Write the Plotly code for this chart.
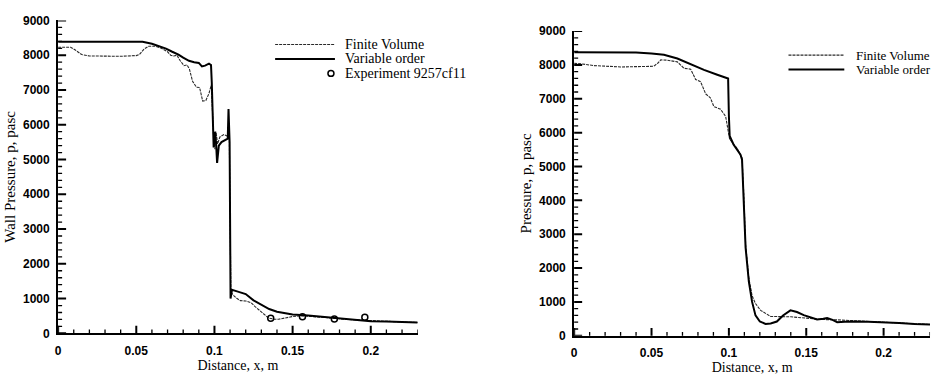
import plotly.graph_objects as go

# ---------------- data ----------------
# Left panel: wall pressure
left_vo_x = [0, 0.02, 0.04, 0.054, 0.06, 0.065, 0.069, 0.073, 0.077, 0.08, 0.0837, 0.087, 0.09,
             0.092, 0.094, 0.0965, 0.0978, 0.0983, 0.099, 0.0995, 0.1003, 0.101, 0.1017, 0.1028,
             0.1045, 0.107, 0.1085, 0.109, 0.1097, 0.1103, 0.1112, 0.115, 0.12, 0.125, 0.13,
             0.135, 0.14, 0.145, 0.15, 0.16, 0.17, 0.18, 0.19, 0.2, 0.21, 0.22, 0.23]
left_vo_p = [8390, 8390, 8400, 8390, 8330, 8260, 8190, 8100, 8020, 7930, 7840, 7800, 7780,
             7680, 7700, 7760, 7720, 7200, 5700, 5350, 5800, 5500, 4900, 5400,
             5500, 5550, 5600, 6450, 5500, 1000, 1250, 1200, 1130, 950, 820,
             700, 620, 570, 540, 510, 470, 430, 380, 350, 340, 320, 310]

left_fv_x = [0, 0.008, 0.011, 0.015, 0.02, 0.03, 0.04, 0.05, 0.052, 0.055, 0.058, 0.062, 0.066,
             0.07, 0.072, 0.074, 0.076, 0.078, 0.0805, 0.0825, 0.084, 0.086, 0.0885, 0.0905,
             0.0915, 0.0925, 0.0945, 0.0965, 0.098, 0.0988, 0.0995, 0.1003, 0.101, 0.102,
             0.1035, 0.106, 0.108, 0.1095, 0.1105, 0.112, 0.1145, 0.1166, 0.12, 0.121, 0.1235,
             0.126, 0.129, 0.1315, 0.1346, 0.138, 0.141, 0.145, 0.1495, 0.156, 0.165, 0.175,
             0.185, 0.2, 0.21, 0.22, 0.23]
left_fv_p = [8230, 8230, 8150, 8020, 7980, 7970, 7970, 7990, 8020, 8180, 8260, 8260, 8200,
             8100, 8000, 7980, 8000, 7850, 7700, 7720, 7600, 7250, 7080, 7070,
             6850, 6680, 6700, 6900, 7150, 6200, 5600, 5300, 5800, 5450,
             5650, 5720, 5680, 5650, 1200, 1100, 1000, 940, 930, 910, 880,
             770, 660, 570, 440, 410, 405, 440, 480, 505, 480, 440,
             400, 360, 345, 325, 310]

exp_x = [0.136, 0.1563, 0.1767, 0.1962]
exp_p = [435, 480, 415, 460]

# Right panel: pressure
right_vo_x = [0, 0.02, 0.04, 0.05, 0.058, 0.0667, 0.075, 0.0839, 0.0925, 0.0979, 0.0995, 0.1,
              0.1005, 0.103, 0.1054, 0.1075, 0.1085, 0.1097, 0.1108, 0.1129, 0.115, 0.1172,
              0.12, 0.1237, 0.127, 0.131, 0.135, 0.1398, 0.144, 0.1484, 0.153, 0.157, 0.161,
              0.1635, 0.167, 0.17, 0.175, 0.18, 0.19, 0.2, 0.21, 0.22, 0.23]
right_vo_p = [8375, 8380, 8370, 8340, 8300, 8190, 8025, 7855, 7710, 7620, 7600, 6500,
              5900, 5650, 5500, 5350, 5200, 4020, 2600, 1600, 1000, 600,
              420, 350, 360, 420, 600, 750, 700, 610, 530, 480, 500,
              520, 470, 400, 410, 420, 410, 400, 380, 350, 330]

right_fv_x = [0, 0.005, 0.0127, 0.02, 0.03, 0.04, 0.0514, 0.054, 0.056, 0.06, 0.0667, 0.071,
              0.0753, 0.0785, 0.0817, 0.085, 0.088, 0.0903, 0.0946, 0.0979, 0.099, 0.1005,
              0.1054, 0.1075, 0.1085, 0.1097, 0.1108, 0.1129, 0.115, 0.1172, 0.1205, 0.127,
              0.133, 0.14, 0.15, 0.16, 0.17, 0.18, 0.2, 0.21, 0.22, 0.23]
right_fv_p = [8045, 8030, 7980, 7960, 7940, 7950, 7960, 8050, 8150, 8140, 8090, 7900,
              7875, 7570, 7505, 7145, 7030, 6770, 6690, 6480, 6200, 5800,
              5530, 5350, 5250, 4100, 2700, 1700, 1180, 950, 750, 570,
              560, 560, 520, 480, 470, 440, 400, 380, 350, 330]

# tick labels
x_tickvals = [0, 0.05, 0.1, 0.15, 0.2]
x_ticktext = ["0", "0.05", "0.1", "0.15", "0.2"]
x_minor_step = 0.01
y_tickvals = [0, 1000, 2000, 3000, 4000, 5000, 6000, 7000, 8000, 9000]
y_ticktext = [str(v) for v in y_tickvals]
y_minor_step = 200

# ---------------- figure ----------------
fig = go.Figure()
FV_STYLE = dict(color="#2a2a2a", width=1.1, dash="3px,1px")
VO_STYLE = dict(color="black", width=2)

fig.add_trace(go.Scatter(x=left_fv_x, y=left_fv_p, mode="lines", line=FV_STYLE,
                         name="Finite Volume", showlegend=False, xaxis="x", yaxis="y"))
fig.add_trace(go.Scatter(x=left_vo_x, y=left_vo_p, mode="lines", line=VO_STYLE,
                         name="Variable order", showlegend=False, xaxis="x", yaxis="y"))
fig.add_trace(go.Scatter(x=exp_x, y=exp_p, mode="markers",
                         marker=dict(symbol="circle-open", size=6, color="black",
                                     line=dict(width=1.5, color="black")),
                         name="Experiment 9257cf11", showlegend=False, xaxis="x", yaxis="y"))
fig.add_trace(go.Scatter(x=right_fv_x, y=right_fv_p, mode="lines", line=FV_STYLE,
                         name="Finite Volume", showlegend=False, xaxis="x2", yaxis="y2"))
fig.add_trace(go.Scatter(x=right_vo_x, y=right_vo_p, mode="lines", line=VO_STYLE,
                         name="Variable order", showlegend=False, xaxis="x2", yaxis="y2"))

W, H = 939, 375
TICKFONT = dict(family="Liberation Sans, Arial, sans-serif", size=12, color="black", weight=700)
TITLEFONT = dict(family="Liberation Serif, Times New Roman, serif", size=14, color="black")

# panel boxes in pixels: (left, right, top, bottom)
PANELS = [(55.3, 416, 14, 339), (573, 930, 25, 341.5)]


def xaxis(domain, anchor):
    return dict(domain=domain, anchor=anchor, range=[0, 0.23], showline=True, linecolor="black",
                linewidth=2, ticks="", ticklabelstandoff=5,
                tickmode="array", tickvals=x_tickvals, ticktext=x_ticktext, tickfont=TICKFONT,
                showgrid=False, zeroline=False,
                title=dict(text="Distance, x, m", font=TITLEFONT, standoff=3))


def yaxis(domain, anchor, title):
    return dict(domain=domain, anchor=anchor, range=[0, 9000], showline=True, linecolor="black",
                linewidth=2, ticks="", ticklabelstandoff=4,
                tickmode="array", tickvals=y_tickvals, ticktext=y_ticktext, tickfont=TICKFONT,
                showgrid=False, zeroline=False,
                title=dict(text=title, font=dict(TITLEFONT, size=15), standoff=4))


(l1, r1, t1, b1), (l2, r2, t2, b2) = PANELS
fig.update_layout(
    width=W, height=H, margin=dict(l=0, r=0, t=0, b=0),
    paper_bgcolor="white", plot_bgcolor="white", showlegend=False,
    xaxis=xaxis([l1 / W, r1 / W], "y"),
    yaxis=yaxis([1 - b1 / H, 1 - t1 / H], "x", "Wall Pressure, p, pasc"),
    xaxis2=xaxis([l2 / W, r2 / W], "y2"),
    yaxis2=yaxis([1 - b2 / H, 1 - t2 / H], "x2", "Pressure, p, pasc"),
)

# ---------------- inward tick marks (major + minor), placed via axis scales ----------------
n_xminor = int(round(0.23 / x_minor_step)) + 1
x_minor_vals = [round(i * x_minor_step, 4) for i in range(n_xminor)]
n_yminor = int(round(9000 / y_minor_step)) + 1
y_minor_vals = [i * y_minor_step for i in range(n_yminor)]

MAJ_LEN, MIN_LEN = 8, 4
for (xr, yr), (l, r, t, b) in zip([("x", "y"), ("x2", "y2")], PANELS):
    pw, ph = r - l, b - t
    for v in x_minor_vals:
        major = any(abs(v - m) < 1e-9 for m in x_tickvals)
        ln = MAJ_LEN if major else MIN_LEN
        fig.add_shape(type="line", xref=xr, yref=yr + " domain", x0=v, x1=v, y0=0, y1=ln / ph,
                      line=dict(color="black", width=2 if major else 1.3), layer="above")
    for v in y_minor_vals:
        major = v in y_tickvals
        ln = MAJ_LEN if major else MIN_LEN
        fig.add_shape(type="line", xref=xr + " domain", yref=yr, x0=0, x1=ln / pw, y0=v, y1=v,
                      line=dict(color="black", width=2 if major else 1.3), layer="above")

# ---------------- legends (drawn in paper coordinates) ----------------
LEGFONT = dict(family="Liberation Serif, Times New Roman, serif", size=14, color="black")


def px(x):
    return x / W


def py(y):
    return 1 - y / H


legend_items = [
    # (line x0, x1, y, style, label, text x, font size)
    (273, 333, 39, FV_STYLE, "Finite Volume", 341, 14),
    (273, 333, 54, VO_STYLE, "Variable order", 341, 14),
    (788, 844, 50, FV_STYLE, "Finite Volume", 854, 13),
    (788, 844, 65, VO_STYLE, "Variable order", 854, 13),
]
for x0, x1, y, st, label, tx, fs in legend_items:
    fig.add_shape(type="line", xref="paper", yref="paper", x0=px(x0), x1=px(x1), y0=py(y), y1=py(y),
                  line=st)
    fig.add_annotation(xref="paper", yref="paper", x=px(tx), y=py(y), text=label, showarrow=False,
                       xanchor="left", yanchor="middle", font=dict(LEGFONT, size=fs))

fig.add_shape(type="circle", xref="paper", yref="paper", x0=px(326), x1=px(332), y0=py(66), y1=py(72),
              line=dict(color="black", width=1.5))
fig.add_annotation(xref="paper", yref="paper", x=px(341), y=py(69), text="Experiment 9257cf11",
                   showarrow=False, xanchor="left", yanchor="middle", font=LEGFONT)

fig.write_html("out.html")
